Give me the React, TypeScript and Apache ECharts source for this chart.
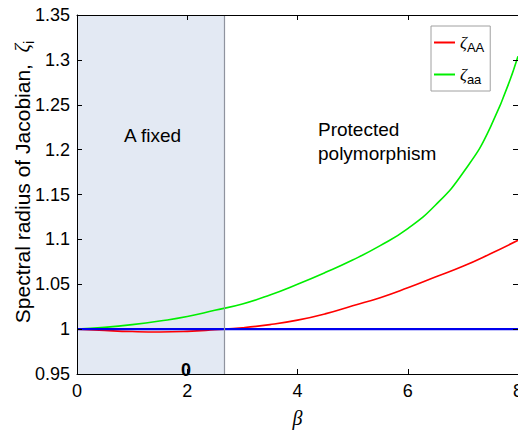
import React, { useEffect, useRef } from "react";
import * as echarts from "echarts";

const beta = [0, 0.5, 1, 1.5, 2, 2.5, 3, 3.5, 4, 4.5, 5, 5.5, 6, 6.5, 7, 7.5, 8];
const zetaAA = [1.0, 0.9985, 0.9973, 0.9968, 0.9975, 0.9993, 1.0015, 1.005, 1.01, 1.017, 1.026, 1.035, 1.046, 1.058, 1.07, 1.084, 1.099];
const zetaaa = [1.0, 1.002, 1.005, 1.009, 1.014, 1.021, 1.028, 1.038, 1.05, 1.063, 1.077, 1.093, 1.112, 1.138, 1.174, 1.225, 1.304];
const baseline = [1.0, 1.0];
const baselineX = [0, 8];
const fixedRegion = [0, 2.68];
const xTicks = [0, 2, 4, 6, 8];
const yTicks = [0.95, 1, 1.05, 1.1, 1.15, 1.2, 1.25, 1.3, 1.35];

const FONT = "Liberation Sans, Arial, Helvetica, sans-serif";

export default function App() {
  const ref = useRef<HTMLDivElement>(null);
  useEffect(() => {
    if (!ref.current) return;
    const chart = echarts.init(ref.current, undefined, { renderer: "svg" });
    const pairs = (xs: number[], ys: number[]) => xs.map((x, i) => [x, ys[i]]);
    const axisCommon = {
      type: "value" as const,
      axisLine: { show: true, onZero: false, lineStyle: { color: "#000", width: 1 } },
      axisTick: { show: true, inside: true, length: 5, lineStyle: { color: "#000" } },
      splitLine: { show: false },
      z: 5,
    };
    chart.setOption({
      animation: false,
      backgroundColor: "#fff",
      grid: { left: 77, top: 15, width: 441, height: 359, containLabel: false, outerBoundsMode: "none" },
      xAxis: [
        {
          ...axisCommon,
          position: "bottom",
          min: xTicks[0],
          max: xTicks[xTicks.length - 1],
          interval: 2,
          axisLabel: { color: "#000", fontSize: 18, fontFamily: FONT, margin: 8 },
          name: "β",
          nameLocation: "middle",
          nameGap: 34,
          nameTextStyle: { color: "#000", fontSize: 20, fontStyle: "italic", fontFamily: "Liberation Serif, Times New Roman, serif" },
        },
        {
          ...axisCommon,
          position: "top",
          min: xTicks[0],
          max: xTicks[xTicks.length - 1],
          interval: 2,
          axisLabel: { show: false },
        },
      ],
      yAxis: [
        {
          ...axisCommon,
          position: "left",
          min: yTicks[0],
          max: yTicks[yTicks.length - 1],
          interval: 0.05,
          axisLabel: {
            color: "#000",
            fontSize: 18,
            fontFamily: FONT,
            margin: 7,
            formatter: (v: number) => String(Math.round(v * 100) / 100),
          },
        },
        {
          ...axisCommon,
          position: "right",
          min: yTicks[0],
          max: yTicks[yTicks.length - 1],
          interval: 0.05,
          axisLabel: { show: false },
        },
      ],
      legend: {
        left: 431,
        top: 26,
        orient: "vertical",
        backgroundColor: "#fff",
        borderColor: "#a0a0a0",
        borderWidth: 1,
        borderRadius: 0,
        padding: [5, 6, 5, 3],
        itemWidth: 21,
        itemHeight: 2,
        itemGap: 9,
        itemTextGap: 2,
        icon: "rect",
        data: ["ζAA", "ζaa"],
        formatter: (name: string) => `{z|ζ}{s|${name.slice(1)}}`,
        textStyle: {
          rich: {
            z: { fontSize: 17, fontFamily: "Liberation Serif, serif", fontStyle: "italic", color: "#000", lineHeight: 24 },
            s: { fontSize: 13, fontFamily: FONT, color: "#000", lineHeight: 24, padding: [10, 0, 0, 0] },
          },
        },
      },
      series: [
        {
          name: "region",
          type: "line",
          data: [],
          silent: true,
          z: 1,
          markArea: {
            silent: true,
            itemStyle: { color: "#e3e9f3" },
            data: [[{ xAxis: fixedRegion[0] }, { xAxis: fixedRegion[1] }]],
          },
          markLine: {
            silent: true,
            symbol: "none",
            label: { show: false },
            lineStyle: { color: "#8f939e", width: 1.2, type: "solid" },
            data: [{ xAxis: fixedRegion[1] }],
          },
        },
        {
          name: "ζaa",
          type: "line",
          data: pairs(beta, zetaaa),
          showSymbol: false,
          smooth: 0.5,
          lineStyle: { color: "#00ee00", width: 1.6 },
          itemStyle: { color: "#00ee00" },
          z: 3,
        },
        {
          name: "ζAA",
          type: "line",
          data: pairs(beta, zetaAA),
          showSymbol: false,
          smooth: 0.5,
          lineStyle: { color: "#ff0000", width: 1.6 },
          itemStyle: { color: "#ff0000" },
          z: 3,
        },
        {
          name: "baseline",
          type: "line",
          data: pairs(baselineX, baseline),
          showSymbol: false,
          lineStyle: { color: "#0000ee", width: 2.4 },
          itemStyle: { color: "#0000ee" },
          z: 4,
        },
      ],
      graphic: [
        { type: "text", z: 100, left: 153 - 29, top: 126, style: { text: "A fixed", fontSize: 19, fontFamily: FONT, fill: "#000" } },
        { type: "text", z: 100, left: 318, top: 117, style: { text: "Protected\npolymorphism", fontSize: 19, lineHeight: 24, fontFamily: FONT, fill: "#000" } },
        { type: "text", z: 100, left: 181, top: 361, style: { text: "0", fontSize: 18, fontWeight: "bold", fontFamily: FONT, fill: "#000" } },
        {
          type: "text",
          z: 100,
          x: 22,
          y: 182,
          rotation: Math.PI / 2,
          style: {
            text: "{a|Spectral radius of Jacobian,  }{z|ζ}{s|i}",
            align: "center",
            verticalAlign: "middle",
            rich: {
              a: { fontSize: 21, fontFamily: FONT, fill: "#000", lineHeight: 26 },
              z: { fontSize: 21, fontFamily: "Liberation Serif, serif", fontStyle: "italic", fill: "#000", lineHeight: 26 },
              s: { fontSize: 14, fontFamily: FONT, fill: "#000", lineHeight: 26, padding: [13, 0, 0, 0] },
            },
          },
        },
      ],
    });
    return () => chart.dispose();
  }, []);
  return <div ref={ref} style={{ position: "absolute", left: 0, top: 0, width: 518, height: 433 }} />;
}
